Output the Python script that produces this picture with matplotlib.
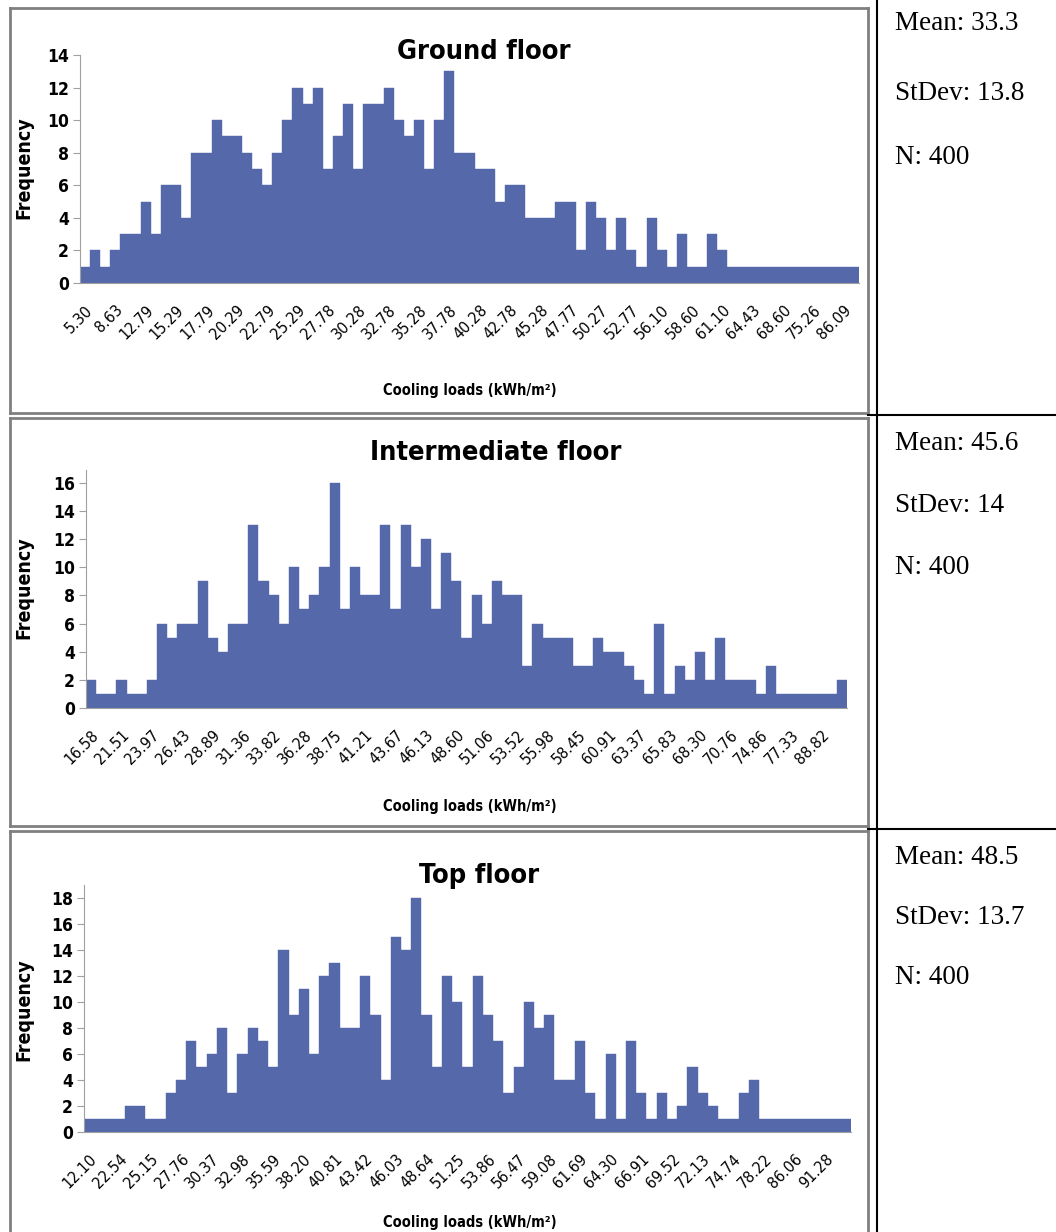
import matplotlib.pyplot as plt
from matplotlib.lines import Line2D
import numpy as np

# frequency per bin
ground = [1, 2, 1, 2, 3, 3, 5, 3, 6, 6, 4, 8, 8, 10, 9, 9, 8, 7, 6, 8,
          10, 12, 11, 12, 7, 9, 11, 7, 11, 11, 12, 10, 9, 10, 7, 10, 13, 8, 8, 7,
          7, 5, 6, 6, 4, 4, 4, 5, 5, 2, 5, 4, 2, 4, 2, 1, 4, 2, 1, 3,
          1, 1, 3, 2, 1, 1, 1, 1, 1, 1, 1, 1, 1, 1, 1, 1, 1]
ground_ticks = ['5.30', '8.63', '12.79', '15.29', '17.79', '20.29', '22.79', '25.29', '27.78',
                '30.28', '32.78', '35.28', '37.78', '40.28', '42.78', '45.28', '47.77', '50.27',
                '52.77', '56.10', '58.60', '61.10', '64.43', '68.60', '75.26', '86.09']

inter = [2, 1, 1, 2, 1, 1, 2, 6, 5, 6, 6, 9, 5, 4, 6, 6, 13, 9, 8, 6,
         10, 7, 8, 10, 16, 7, 10, 8, 8, 13, 7, 13, 10, 12, 7, 11, 9, 5, 8, 6,
         9, 8, 8, 3, 6, 5, 5, 5, 3, 3, 5, 4, 4, 3, 2, 1, 6, 1, 3, 2,
         4, 2, 5, 2, 2, 2, 1, 3, 1, 1, 1, 1, 1, 1, 2]
inter_ticks = ['16.58', '21.51', '23.97', '26.43', '28.89', '31.36', '33.82', '36.28', '38.75',
               '41.21', '43.67', '46.13', '48.60', '51.06', '53.52', '55.98', '58.45', '60.91',
               '63.37', '65.83', '68.30', '70.76', '74.86', '77.33', '88.82']

top = [1, 1, 1, 1, 2, 2, 1, 1, 3, 4, 7, 5, 6, 8, 3, 6, 8, 7, 5, 14,
       9, 11, 6, 12, 13, 8, 8, 12, 9, 4, 15, 14, 18, 9, 5, 12, 10, 5, 12, 9,
       7, 3, 5, 10, 8, 9, 4, 4, 7, 3, 1, 6, 1, 7, 3, 1, 3, 1, 2, 5,
       3, 2, 1, 1, 3, 4, 1, 1, 1, 1, 1, 1, 1, 1, 1]
top_ticks = ['12.10', '22.54', '25.15', '27.76', '30.37', '32.98', '35.59', '38.20', '40.81',
             '43.42', '46.03', '48.64', '51.25', '53.86', '56.47', '59.08', '61.69', '64.30',
             '66.91', '69.52', '72.13', '74.74', '78.22', '86.06', '91.28']

titles = ['Ground floor', 'Intermediate floor', 'Top floor']
stats = [['Mean: 33.3', 'StDev: 13.8', 'N: 400'],
         ['Mean: 45.6', 'StDev: 14', 'N: 400'],
         ['Mean: 48.5', 'StDev: 13.7', 'N: 400']]

W, H = 1056, 1232
fig = plt.figure(figsize=(W / 100, H / 100), dpi=100)
fig.patch.set_facecolor('white')

def fx(x):
    return x / W

def fy(y):
    return 1 - y / H

sans = ['DejaVu Sans']
cond = 'condensed'
serif = ['Liberation Serif', 'DejaVu Serif']
barColor = '#5468AA'

# pixel boxes of the plot areas: left, right, y of zero, y of top
boxes = [(80, 859, 283, 55, 14), (86, 847, 708, 470, 16.9), (84, 851, 1132, 885, 19)]
yticks = [np.arange(0, 15, 2), np.arange(0, 17, 2), np.arange(0, 19, 2)]
series = [ground, inter, top]
ticklabels = [ground_ticks, inter_ticks, top_ticks]
title_x = [484, 496, 479]
title_y = [52, 453, 876]
ylab_y = [168, 588, 1010]
xlab_y = [391, 806, 1222]
stat_y = [[24, 94, 157], [443, 505, 567], [858, 917, 977]]

for k in range(3):
    l, r, y0, y1, ymax = boxes[k]
    ax = fig.add_axes([fx(l), fy(y0), (r - l) / W, (y0 - y1) / H])
    vals = series[k]
    x = np.arange(len(vals))
    ax.bar(x, vals, width=1.0, color=barColor, edgecolor=barColor, linewidth=0.3)
    ax.set_xlim(-0.5, len(vals) - 0.5)
    ax.set_ylim(0, ymax)
    ax.set_yticks(yticks[k])
    ax.set_yticklabels([str(v) for v in yticks[k]], fontsize=12.5, fontweight='bold',
                       family=sans, fontstretch=cond)
    ax.set_xticks(x[::3])
    ax.set_xticklabels(ticklabels[k], rotation=45, ha='right', rotation_mode='anchor',
                       fontsize=11.5, family=sans, fontstretch=cond)
    ax.tick_params(axis='x', length=0, pad=14)
    ax.tick_params(axis='y', length=5, width=0.8, color='#A0A0A0', pad=3)
    for s in ['top', 'right']:
        ax.spines[s].set_visible(False)
    ax.spines['left'].set_color('#A0A0A0')
    ax.spines['bottom'].set_color('#A0A0A0')
    ax.set_facecolor('none')

    fig.text(fx(title_x[k]), fy(title_y[k]), titles[k], ha='center', va='center',
             fontsize=19.5, fontweight='bold', family=sans, fontstretch=cond)
    fig.text(fx(24), fy(ylab_y[k]), 'Frequency', rotation=90, ha='center', va='center',
             fontsize=14, fontweight='bold', family=sans, fontstretch=cond)
    fig.text(fx(470), fy(xlab_y[k]), 'Cooling loads (kWh/m²)', ha='center', va='center',
             fontsize=10.5, fontweight='bold', family=sans, fontstretch=cond)
    for j in range(3):
        fig.text(fx(895), fy(stat_y[k][j]), stats[k][j], ha='left', va='center',
                 fontsize=19.5, family=serif)

# grey chart frames
frames = [(8, 413), (418, 826), (831, 1240)]
for t, b in frames:
    for xs, ys in [([10, 868], [t, t]), ([10, 868], [b, b]), ([10, 10], [t, b]), ([868, 868], [t, b])]:
        fig.add_artist(Line2D([fx(v) for v in xs], [fy(v) for v in ys], color='#808080', lw=2))

# black table lines
fig.add_artist(Line2D([fx(877), fx(877)], [fy(0), fy(H)], color='black', lw=1.5))
for yy in [415.5, 828.5]:
    fig.add_artist(Line2D([fx(868), fx(W)], [fy(yy), fy(yy)], color='black', lw=1.5))

plt.savefig('out.png', dpi=100, facecolor='white')
